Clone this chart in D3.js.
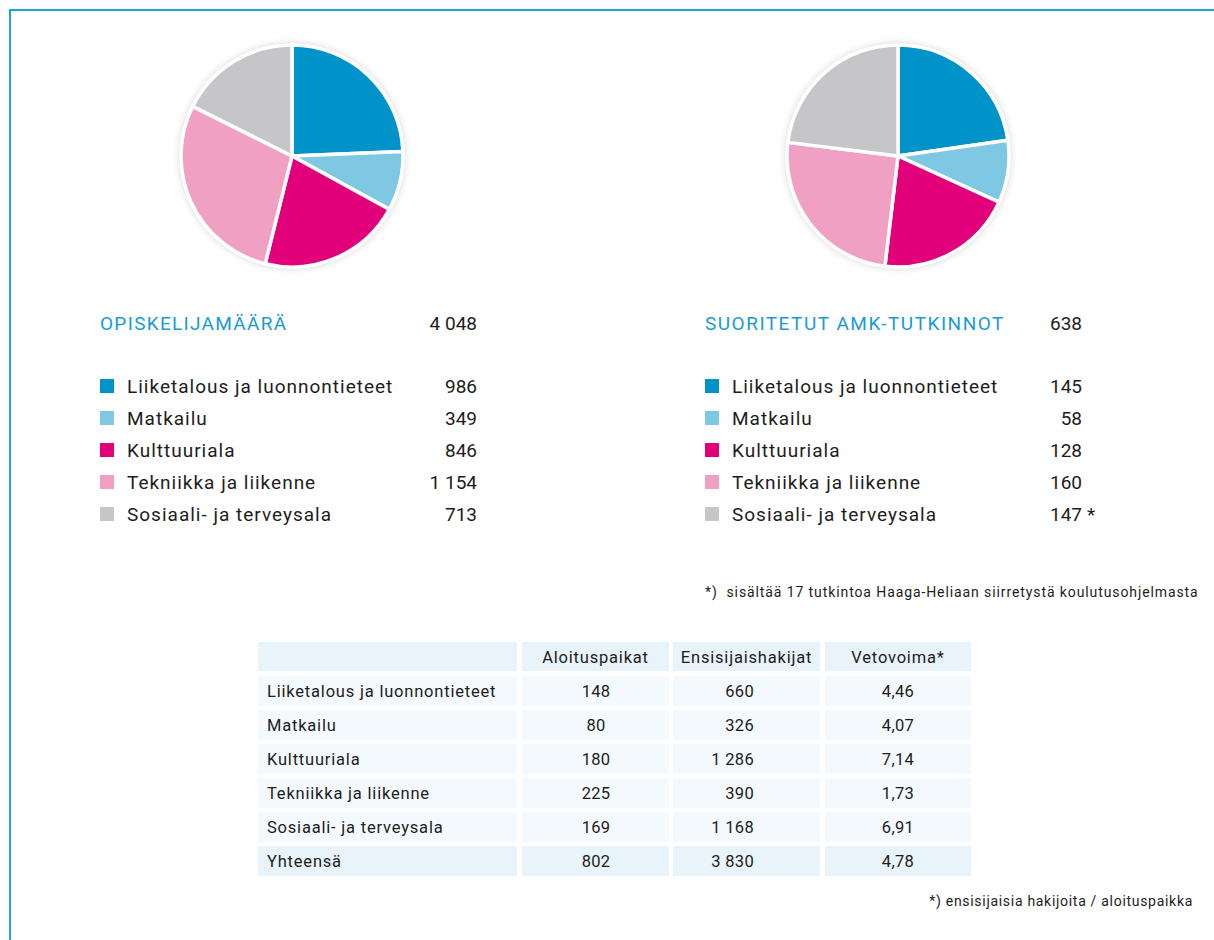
<!DOCTYPE html>
<html>
<head>
<meta charset="utf-8">
<script src="https://cdn.jsdelivr.net/npm/d3@7"></script>
<style>
  html, body { margin: 0; padding: 0; background: #fff; }
  svg { display: block; }
</style>
</head>
<body>
<div id="chart"></div>
<script>
// Data
const categories = ['Liiketalous ja luonnontieteet', 'Matkailu', 'Kulttuuriala', 'Tekniikka ja liikenne', 'Sosiaali- ja terveysala']
const students = [986, 349, 846, 1154, 713]
const degrees = [145, 58, 128, 160, 147]
const startPlaces = [148, 80, 180, 225, 169]
const firstApplicants = [660, 326, 1286, 390, 1168]
const pullFactor = [4.46, 4.07, 7.14, 1.73, 6.91]
const pullTotal = 4.78
const tableHeaders = ['', 'Aloituspaikat', 'Ensisijaishakijat', 'Vetovoima*']
const totalLabel = 'Yhteensä'
const colours = ['#0093c9', '#7fc8e3', '#e2007a', '#f0a1c3', '#c6c6c8']

const width = 1214
const height = 940
const font = 'Roboto, "Noto Sans", sans-serif'
const textColour = '#1d1d1b'
const titleColour = '#1a9ad6'

const fi = d3.formatLocale({decimal: ',', thousands: '\u2009', grouping: [3], currency: ['', '']})
const fmtInt = d => fi.format(',')(d).replace('\u2009', ' ')
const fmtDec = fi.format('.2f')

const svg = d3.select('#chart')
  .append('svg')
  .attr('width', width)
  .attr('height', height)
  .style('font-family', font)

// soft shadow round the pies
const defs = svg.append('defs')
const shadow = defs.append('filter').attr('id', 'pie-shadow')
  .attr('x', '-20%').attr('y', '-20%').attr('width', '140%').attr('height', '140%')
shadow.append('feGaussianBlur').attr('in', 'SourceAlpha').attr('stdDeviation', 4).attr('result', 'blur')
shadow.append('feComponentTransfer').attr('in', 'blur').attr('result', 'soft')
  .append('feFuncA').attr('type', 'linear').attr('slope', 0.18)
const merge = shadow.append('feMerge')
merge.append('feMergeNode').attr('in', 'soft')
merge.append('feMergeNode').attr('in', 'SourceGraphic')

// Frame lines
svg.append('path')
  .attr('d', `M10,${height} L10,10 L${width},10`)
  .style('fill', 'none')
  .style('stroke', '#1aa3e0')
  .style('stroke-width', 2)

const radius = 111
const pie = d3.pie().sort(null)
const arc = d3.arc().innerRadius(0).outerRadius(radius)

function drawPie(cx, cy, values) {
  const g = svg.append('g').attr('transform', `translate(${cx},${cy})`)
  g.append('circle').attr('r', radius + 1).style('fill', '#fff').attr('filter', 'url(#pie-shadow)')
  g.selectAll('path')
    .data(pie(values))
    .join('path')
    .attr('d', arc)
    .style('fill', (d, i) => colours[i])
    .style('stroke', '#fff')
    .style('stroke-width', 3.5)
    .style('stroke-linejoin', 'round')
}

function drawLegend(x, valueX, title, values, titleSpacing, starIndex) {
  const g = svg.append('g')
  g.append('text')
    .attr('x', x).attr('y', 330)
    .style('font-size', '19px')
    .style('fill', titleColour)
    .style('letter-spacing', titleSpacing + 'px')
    .text(title)
  g.append('text')
    .attr('x', valueX).attr('y', 330)
    .attr('text-anchor', 'end')
    .style('font-size', '19px')
    .style('fill', textColour)
    .text(fmtInt(d3.sum(values)))

  const rowY = d3.scalePoint().domain(categories).range([386, 514])
  const rows = g.selectAll('.legend-row')
    .data(categories)
    .join('g')
    .attr('class', 'legend-row')
    .attr('transform', d => `translate(0,${rowY(d)})`)
  rows.append('rect')
    .attr('x', x).attr('y', -7)
    .attr('width', 14).attr('height', 14)
    .style('fill', (d, i) => colours[i])
  rows.append('text')
    .attr('x', x + 27).attr('y', 7)
    .style('font-size', '19px')
    .style('letter-spacing', '1px')
    .style('fill', textColour)
    .text(d => d)
  rows.append('text')
    .attr('x', valueX).attr('y', 7)
    .attr('text-anchor', 'end')
    .style('font-size', '19px')
    .style('fill', textColour)
    .text((d, i) => fmtInt(values[i]))
  if (starIndex !== undefined) {
    g.append('text')
      .attr('x', valueX + 5).attr('y', rowY(categories[starIndex]) + 7)
      .style('font-size', '19px')
      .style('fill', textColour)
      .text('*')
  }
}

drawPie(292, 156, students)
drawPie(898, 156, degrees)
drawLegend(100, 477, 'OPISKELIJAMÄÄRÄ', students, 1.3)
drawLegend(705, 1082, 'SUORITETUT AMK-TUTKINNOT', degrees, 1.5, 4)

svg.append('text')
  .attr('x', 705).attr('y', 597)
  .style('font-size', '14px')
  .style('letter-spacing', '0.9px')
  .style('white-space', 'pre')
  .style('fill', textColour)
  .text('*)  sisältää 17 tutkintoa Haaga-Heliaan siirretystä koulutusohjelmasta')

// Table
const tableRows = categories.map((c, i) => [c, fmtInt(startPlaces[i]), fmtInt(firstApplicants[i]), fmtDec(pullFactor[i])])
tableRows.push([totalLabel, fmtInt(d3.sum(startPlaces)), fmtInt(d3.sum(firstApplicants)), fmtDec(pullTotal)])
const allRows = [tableHeaders, ...tableRows]

const colLeft = [258, 522, 673, 825]
const colRight = [517, 669, 820, 971]
const rowTop = d3.range(allRows.length).map(i => 642 + i * 34)
const rowH = 30
const align = ['start', 'middle', 'end', 'middle']
const textX = [267, 596, 754, 898]

const tg = svg.append('g')
allRows.forEach((row, r) => {
  const fill = (r === 0 || r === allRows.length - 1) ? '#e8f3fa' : '#f4f9fd'
  row.forEach((cell, c) => {
    tg.append('rect')
      .attr('x', colLeft[c]).attr('y', rowTop[r])
      .attr('width', colRight[c] - colLeft[c]).attr('height', r === 0 ? 29 : rowH)
      .style('fill', fill)
    const anchor = r === 0 ? (c === 0 ? 'start' : 'middle') : align[c]
    const tx = r === 0 && c > 0 ? (colLeft[c] + colRight[c]) / 2 : textX[c]
    const isText = r === 0 || c === 0
    tg.append('text')
      .attr('x', tx).attr('y', rowTop[r] + 21)
      .attr('text-anchor', anchor)
      .style('font-size', '16.5px')
      .style('letter-spacing', isText ? '0.8px' : '0.3px')
      .style('fill', textColour)
      .text(cell)
  })
})

svg.append('text')
  .attr('x', 1193).attr('y', 906)
  .attr('text-anchor', 'end')
  .style('font-size', '14px')
  .style('letter-spacing', '0.7px')
  .style('fill', textColour)
  .text('*) ensisijaisia hakijoita / aloituspaikka')
</script>
</body>
</html>
